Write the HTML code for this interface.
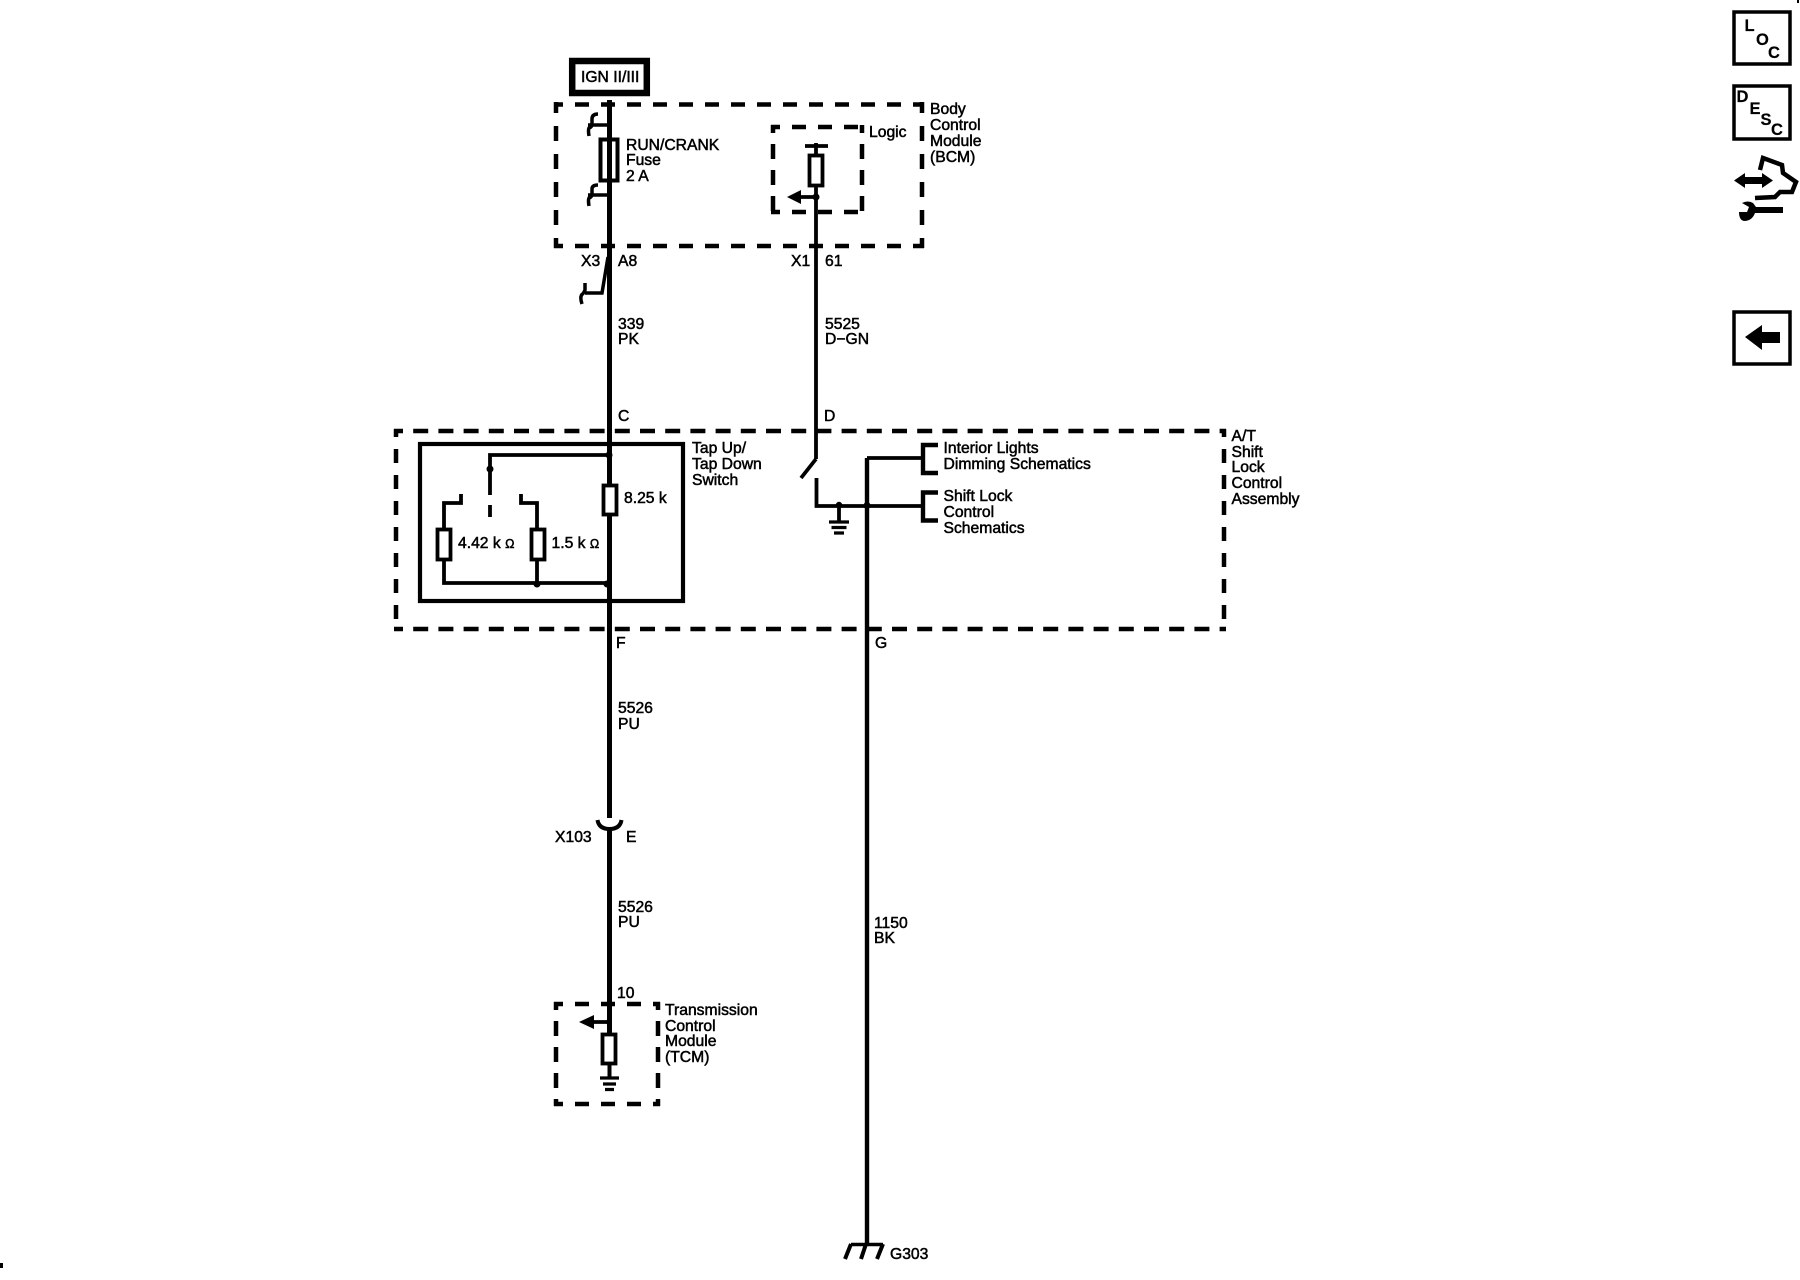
<!DOCTYPE html>
<html><head><meta charset="utf-8"><style>
html,body{margin:0;padding:0;background:#fff}
svg{display:block}
text{font-family:"Liberation Sans",sans-serif;font-size:15.7px;fill:#000;stroke:#000;stroke-width:.5px}
.b{font-weight:bold;font-size:16.5px;stroke-width:.2px}
</style></head><body>
<svg width="1800" height="1280" viewBox="0 0 1800 1280" xmlns="http://www.w3.org/2000/svg">
<rect width="1800" height="1280" fill="#fff"/>
<!-- dashed containers -->
<g fill="none" stroke="#000" stroke-width="4.5">
<g stroke-dasharray="14 12" stroke-dashoffset="5">
<line x1="554" y1="104.5" x2="924" y2="104.5"/><line x1="554" y1="246" x2="924" y2="246"/>
<line x1="554" y1="1004" x2="660" y2="1004"/><line x1="554" y1="1104" x2="660" y2="1104"/>
<line x1="771" y1="127" x2="864" y2="127"/><line x1="771" y1="212" x2="864" y2="212"/>
</g>
<g stroke-dasharray="15 13" stroke-dashoffset="4">
<line x1="556" y1="102" x2="556" y2="248"/><line x1="922" y1="102" x2="922" y2="248"/>
</g>
<g stroke-dasharray="15 11" stroke-dashoffset="7">
<line x1="556" y1="1002" x2="556" y2="1106"/><line x1="658" y1="1002" x2="658" y2="1106"/>
<line x1="773" y1="125" x2="773" y2="214"/><line x1="862" y1="125" x2="862" y2="214"/>
</g>
<g stroke-dasharray="15 10.2" stroke-dashoffset="6">
<line x1="394" y1="431" x2="1226" y2="431"/><line x1="394" y1="629" x2="1226" y2="629"/>
</g>
<g stroke-dasharray="14 12" stroke-dashoffset="6">
<line x1="396" y1="429" x2="396" y2="631"/><line x1="1224" y1="429" x2="1224" y2="631"/>
</g>
</g>
<!-- IGN -->
<rect x="572.2" y="61" width="74.6" height="32" fill="#fff" stroke="#000" stroke-width="6.5"/>
<!-- main wire -->
<g fill="none" stroke="#000">
<path d="M609.5 100V818M609.5 829V1034" stroke-width="5"/>
<path d="M597.5 820Q599 829 609.5 829Q620 829 621.5 820" stroke-width="4"/>
<path d="M609.5 1064V1078" stroke-width="4"/>
<!-- fuse -->
<rect x="600.5" y="139.5" width="17" height="41" stroke-width="4"/>
<!-- hooks -->
<path d="M588 125H609M598 114Q592 114 592 119V124Q592 127 589 128Q588 130 589 136" stroke-width="3.5"/>
<path d="M588 195H609M598 185Q592 185 592 189V194Q592 197 589 198Q588 200 589 206" stroke-width="3.5"/>
<path d="M608 257L602 293H585M585 283V290Q584 293 581.5 295Q580 298 582 304" stroke-width="3.5"/>
<!-- second wire -->
<path d="M816 143V154M816 187V459" stroke-width="3.8"/>
<path d="M805 146H828" stroke-width="3.8"/>
<rect x="809.5" y="155.5" width="13" height="30" fill="#fff" stroke-width="3.8"/>
<path d="M816 197H798" stroke-width="3.8"/>
<path d="M816 459L801 478" stroke-width="3.8"/>
<path d="M816.5 478V506H921M839 506V522" stroke-width="3.8"/>
<path d="M829 522H849M831.5 527.5H846.5M834 533H844" stroke-width="3.2"/>
<!-- G wire -->
<path d="M867 458V1244" stroke-width="4.4"/>
<path d="M867 458H921" stroke-width="3.8"/>
<path d="M938 445H923V473H938M938 492.5H923V520.5H938" stroke-width="4.4"/>
<path d="M851 1244.5H883" stroke-width="3.5"/>
<path d="M851 1244L845 1259M866 1244L861 1259M883 1244L877 1259" stroke-width="4"/>
<!-- tap box -->
<rect x="420" y="444" width="263" height="157" stroke-width="4.2"/>
<path d="M490 517V505M490 495V455H609" stroke-width="3.8"/>
<path d="M461 494V503H444V583H609" stroke-width="3.8"/>
<path d="M521 494V503H537V583" stroke-width="3.8"/>
<rect x="603.5" y="485.5" width="13" height="29" fill="#fff" stroke-width="3.8"/>
<rect x="437.5" y="529.5" width="13" height="30" fill="#fff" stroke-width="3.8"/>
<rect x="531.5" y="529.5" width="13" height="30" fill="#fff" stroke-width="3.8"/>
<!-- TCM -->
<rect x="602.5" y="1034.5" width="13" height="29" fill="#fff" stroke-width="3.8"/>
<path d="M609.5 1022H590" stroke-width="3.8"/>
<path d="M600 1078H619M603 1084H616M605 1089.5H614" stroke-width="3.2"/>
</g>
<g fill="#000">
<circle cx="609" cy="125" r="2.5"/><circle cx="609" cy="195" r="2.5"/>
<circle cx="816" cy="197" r="3.5"/><circle cx="816" cy="146" r="2.5"/>
<circle cx="839" cy="505" r="3.2"/><circle cx="867" cy="505.5" r="3.5"/>
<circle cx="609" cy="455" r="3.5"/><circle cx="490" cy="469" r="3.5"/>
<circle cx="537" cy="584" r="3.5"/><circle cx="607" cy="584" r="3.5"/>
<circle cx="609" cy="1022" r="3"/>
<polygon points="787,197 801,190 801,204"/>
<polygon points="579,1022 594,1015 594,1029"/>
<rect x="0" y="1263" width="3" height="5"/><rect x="1797" y="0" width="2" height="3"/>
</g>
<!-- labels -->
<text x="581" y="82">IGN II/III</text>
<text x="930" y="114">Body</text><text x="930" y="130">Control</text><text x="930" y="146">Module</text><text x="930" y="162">(BCM)</text>
<text x="869" y="137">Logic</text>
<text x="626" y="150">RUN/CRANK</text><text x="626" y="165">Fuse</text><text x="626" y="181">2 A</text>
<text x="581" y="266">X3</text><text x="618" y="266">A8</text>
<text x="791" y="266">X1</text><text x="825" y="266">61</text>
<text x="618" y="329">339</text><text x="618" y="344">PK</text>
<text x="825" y="329">5525</text><text x="825" y="344">D−GN</text>
<text x="618" y="421">C</text><text x="824" y="421">D</text>
<text x="692" y="453">Tap Up/</text><text x="692" y="469">Tap Down</text><text x="692" y="485">Switch</text>
<text x="624" y="503">8.25 k</text>
<text x="458" y="548">4.42 k <tspan font-size="12.5">Ω</tspan></text>
<text x="551.5" y="548">1.5 k <tspan font-size="12.5">Ω</tspan></text>
<text x="943.5" y="453">Interior Lights</text><text x="943.5" y="469">Dimming Schematics</text>
<text x="943.5" y="501">Shift Lock</text><text x="943.5" y="517">Control</text><text x="943.5" y="533">Schematics</text>
<text x="1231.5" y="441">A/T</text><text x="1231.5" y="457">Shift</text><text x="1231.5" y="472">Lock</text><text x="1231.5" y="488">Control</text><text x="1231.5" y="504">Assembly</text>
<text x="616" y="648">F</text><text x="875" y="648">G</text>
<text x="618" y="713">5526</text><text x="618" y="729">PU</text>
<text x="555" y="842">X103</text><text x="626" y="842">E</text>
<text x="618" y="912">5526</text><text x="618" y="927">PU</text>
<text x="874" y="928">1150</text><text x="874" y="943">BK</text>
<text x="617" y="998">10</text>
<text x="665" y="1015">Transmission</text><text x="665" y="1031">Control</text><text x="665" y="1046">Module</text><text x="665" y="1062">(TCM)</text>
<text x="890" y="1259">G303</text>
<!-- right icons -->
<g fill="#fff" stroke="#000" stroke-width="3.5">
<rect x="1734" y="12" width="56" height="52"/>
<rect x="1734" y="86" width="56" height="53"/>
<rect x="1734" y="312" width="56" height="52"/>
</g>
<text class="b" x="1744.5" y="31">L</text><text class="b" x="1756" y="45">O</text><text class="b" x="1768" y="58">C</text>
<text class="b" x="1736.5" y="102">D</text><text class="b" x="1749.5" y="114">E</text><text class="b" x="1760.5" y="125">S</text><text class="b" x="1771" y="135">C</text>
<polygon points="1745,337 1762,325 1762,332 1780,332 1780,343 1762,343 1762,350"/>
<polygon points="1734,180.5 1745,173 1745,177 1762,177 1762,173 1773,180.5 1762,188 1762,184 1745,184 1745,188"/>
<path d="M1760 170L1763 158L1782 165L1783 173L1796 182L1792 192L1780 192L1775 197L1755 198" fill="none" stroke="#000" stroke-width="4.5"/>
<path d="M1783 207V213H1755Q1752 221 1744 221Q1739 220 1739 212L1747 212L1749 207L1742 203Q1748 200 1753 203L1756 207Z" fill="#000"/>
</svg>
</body></html>
